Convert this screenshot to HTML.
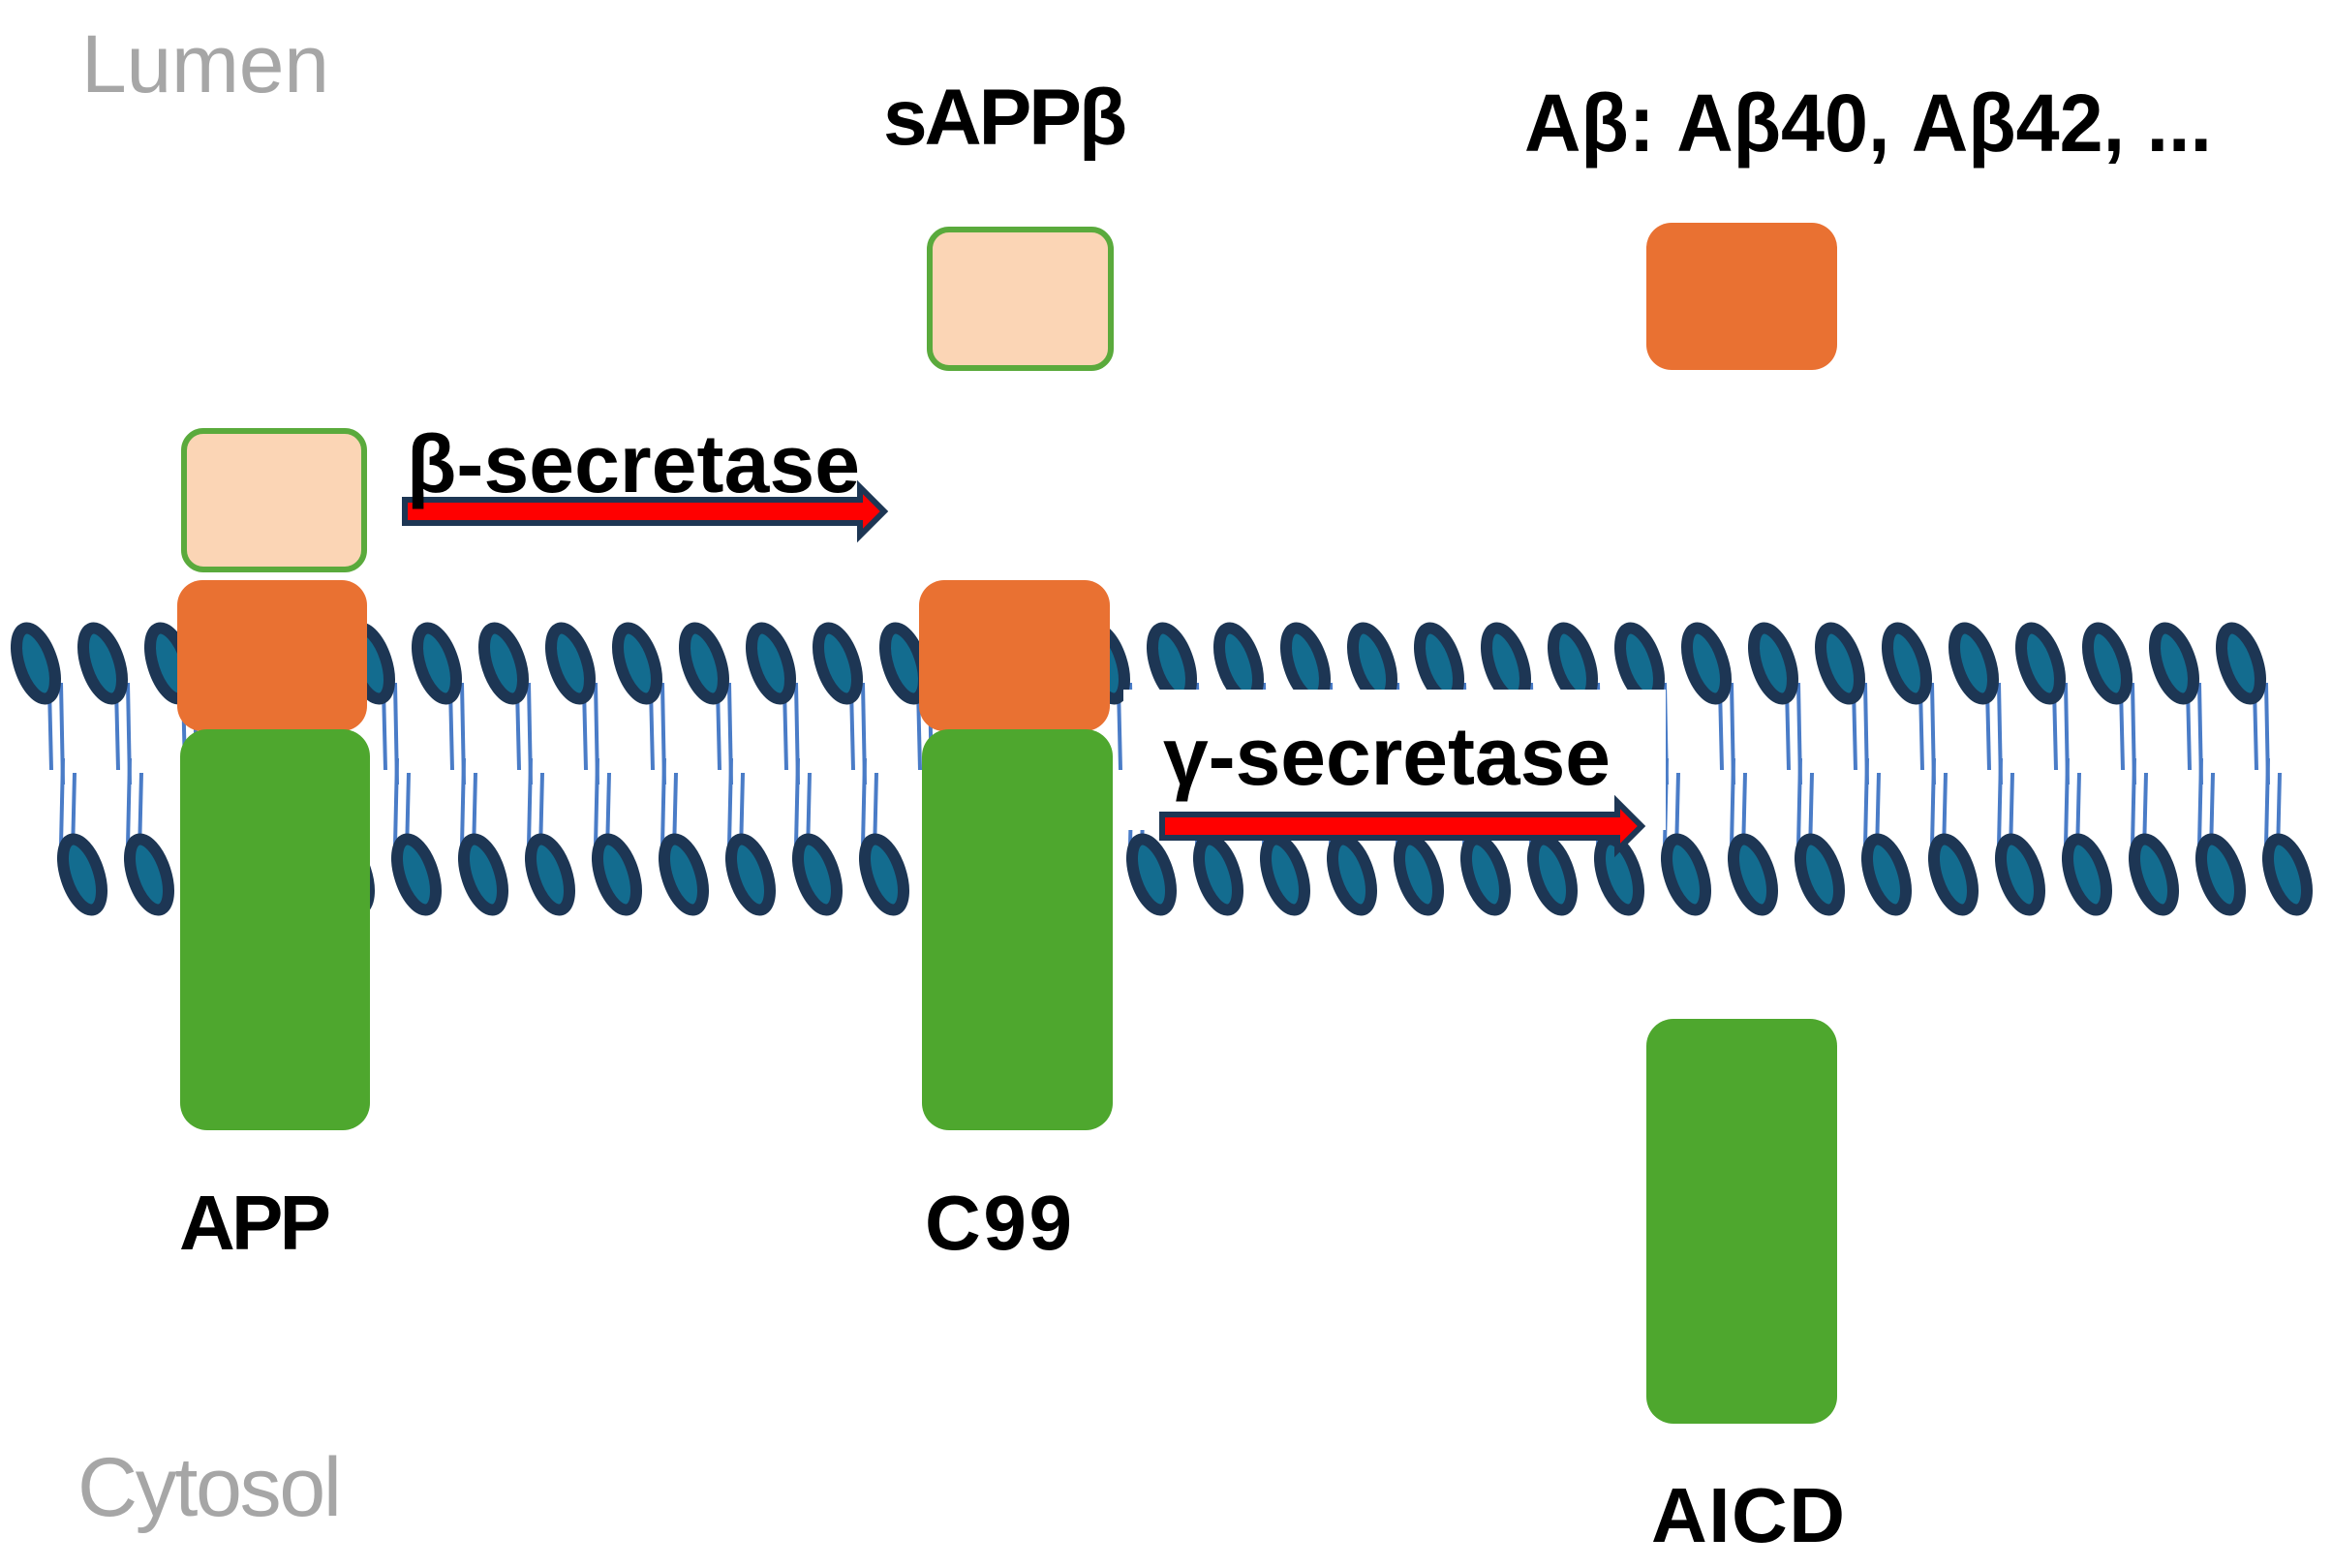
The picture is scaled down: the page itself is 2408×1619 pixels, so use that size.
<!DOCTYPE html>
<html><head><meta charset="utf-8"><style>html,body{margin:0;padding:0;background:#fff}svg{display:block}</style></head>
<body>
<svg width="2408" height="1619" viewBox="0 0 2408 1619" xmlns="http://www.w3.org/2000/svg" font-family="Liberation Sans, sans-serif">
<defs>
<g id="lt">
  <line x1="14" y1="25" x2="16" y2="110" stroke="#4a7cc7" stroke-width="4"/>
  <line x1="26" y1="20" x2="28" y2="125" stroke="#4a7cc7" stroke-width="4"/>
  <ellipse cx="0" cy="0" rx="17" ry="38" transform="rotate(-18)" fill="#136c8f" stroke="#1d3654" stroke-width="12"/>
</g>
<g id="lb">
  <line x1="-22" y1="-30" x2="-20" y2="-120" stroke="#4a7cc7" stroke-width="4"/>
  <line x1="-10" y1="-22" x2="-8" y2="-105" stroke="#4a7cc7" stroke-width="4"/>
  <ellipse cx="0" cy="0" rx="17" ry="38" transform="rotate(-18)" fill="#136c8f" stroke="#1d3654" stroke-width="12"/>
</g>
</defs>
<g id="top">
<use href="#lt" x="37" y="685"/><use href="#lt" x="106" y="685"/><use href="#lt" x="175" y="685"/><use href="#lt" x="244" y="685"/><use href="#lt" x="313" y="685"/><use href="#lt" x="382" y="685"/><use href="#lt" x="451" y="685"/><use href="#lt" x="520" y="685"/><use href="#lt" x="589" y="685"/><use href="#lt" x="658" y="685"/><use href="#lt" x="727" y="685"/><use href="#lt" x="796" y="685"/><use href="#lt" x="865" y="685"/><use href="#lt" x="934" y="685"/><use href="#lt" x="1003" y="685"/><use href="#lt" x="1072" y="685"/><use href="#lt" x="1141" y="685"/><use href="#lt" x="1210" y="685"/><use href="#lt" x="1279" y="685"/><use href="#lt" x="1348" y="685"/><use href="#lt" x="1417" y="685"/><use href="#lt" x="1486" y="685"/><use href="#lt" x="1555" y="685"/><use href="#lt" x="1624" y="685"/><use href="#lt" x="1693" y="685"/><use href="#lt" x="1762" y="685"/><use href="#lt" x="1831" y="685"/><use href="#lt" x="1900" y="685"/><use href="#lt" x="1969" y="685"/><use href="#lt" x="2038" y="685"/><use href="#lt" x="2107" y="685"/><use href="#lt" x="2176" y="685"/><use href="#lt" x="2245" y="685"/><use href="#lt" x="2314" y="685"/>
</g>
<g id="bot">
<use href="#lb" x="85" y="903"/><use href="#lb" x="154" y="903"/><use href="#lb" x="223" y="903"/><use href="#lb" x="292" y="903"/><use href="#lb" x="361" y="903"/><use href="#lb" x="430" y="903"/><use href="#lb" x="499" y="903"/><use href="#lb" x="568" y="903"/><use href="#lb" x="637" y="903"/><use href="#lb" x="706" y="903"/><use href="#lb" x="775" y="903"/><use href="#lb" x="844" y="903"/><use href="#lb" x="913" y="903"/><use href="#lb" x="982" y="903"/><use href="#lb" x="1051" y="903"/><use href="#lb" x="1120" y="903"/><use href="#lb" x="1189" y="903"/><use href="#lb" x="1258" y="903"/><use href="#lb" x="1327" y="903"/><use href="#lb" x="1396" y="903"/><use href="#lb" x="1465" y="903"/><use href="#lb" x="1534" y="903"/><use href="#lb" x="1603" y="903"/><use href="#lb" x="1672" y="903"/><use href="#lb" x="1741" y="903"/><use href="#lb" x="1810" y="903"/><use href="#lb" x="1879" y="903"/><use href="#lb" x="1948" y="903"/><use href="#lb" x="2017" y="903"/><use href="#lb" x="2086" y="903"/><use href="#lb" x="2155" y="903"/><use href="#lb" x="2224" y="903"/><use href="#lb" x="2293" y="903"/><use href="#lb" x="2362" y="903"/>
</g>
<rect x="1160" y="712" width="560" height="145" fill="#fff"/>
<rect x="190" y="445" width="186" height="143" rx="20" fill="#fbd5b5" stroke="#5aaa3c" stroke-width="6"/>
<rect x="183" y="599" width="196" height="156" rx="26" fill="#e97132"/>
<rect x="186" y="753" width="196" height="414" rx="28" fill="#4ea72e"/>
<rect x="949" y="599" width="197" height="156" rx="26" fill="#e97132"/>
<rect x="952" y="753" width="197" height="414" rx="28" fill="#4ea72e"/>
<rect x="960" y="237" width="187" height="143" rx="20" fill="#fbd5b5" stroke="#5aaa3c" stroke-width="6"/>
<rect x="1700" y="230" width="197" height="152" rx="26" fill="#e97132"/>
<rect x="1700" y="1052" width="197" height="418" rx="28" fill="#4ea72e"/>
<path d="M418,516 H888 V503 L913,528 L888,553 V540 H418 Z" fill="#ff0000" stroke="#1d3654" stroke-width="6" stroke-linejoin="miter"/>
<path d="M1200,841 H1670 V828 L1695,853 L1670,878 V865 H1200 Z" fill="#ff0000" stroke="#1d3654" stroke-width="6" stroke-linejoin="miter"/>
<text x="84" y="95" font-size="84" fill="#a6a6a6" textLength="256">Lumen</text>
<text x="80" y="1565" font-size="86" fill="#a6a6a6" textLength="273">Cytosol</text>
<text x="912" y="149" font-size="82" font-weight="bold" textLength="252">sAPPβ</text>
<text x="1574" y="156" font-size="84" font-weight="bold" textLength="710" lengthAdjust="spacingAndGlyphs">Aβ: Aβ40, Aβ42, ...</text>
<text x="420" y="508" font-size="84" font-weight="bold" textLength="468">β-secretase</text>
<text x="1201" y="810" font-size="84" font-weight="bold" textLength="462">γ-secretase</text>
<text x="185" y="1290" font-size="80" font-weight="bold" textLength="157">APP</text>
<text x="955" y="1290" font-size="80" font-weight="bold" textLength="152">C99</text>
<text x="1705" y="1592" font-size="80" font-weight="bold" textLength="200">AICD</text>
</svg>
</body></html>
